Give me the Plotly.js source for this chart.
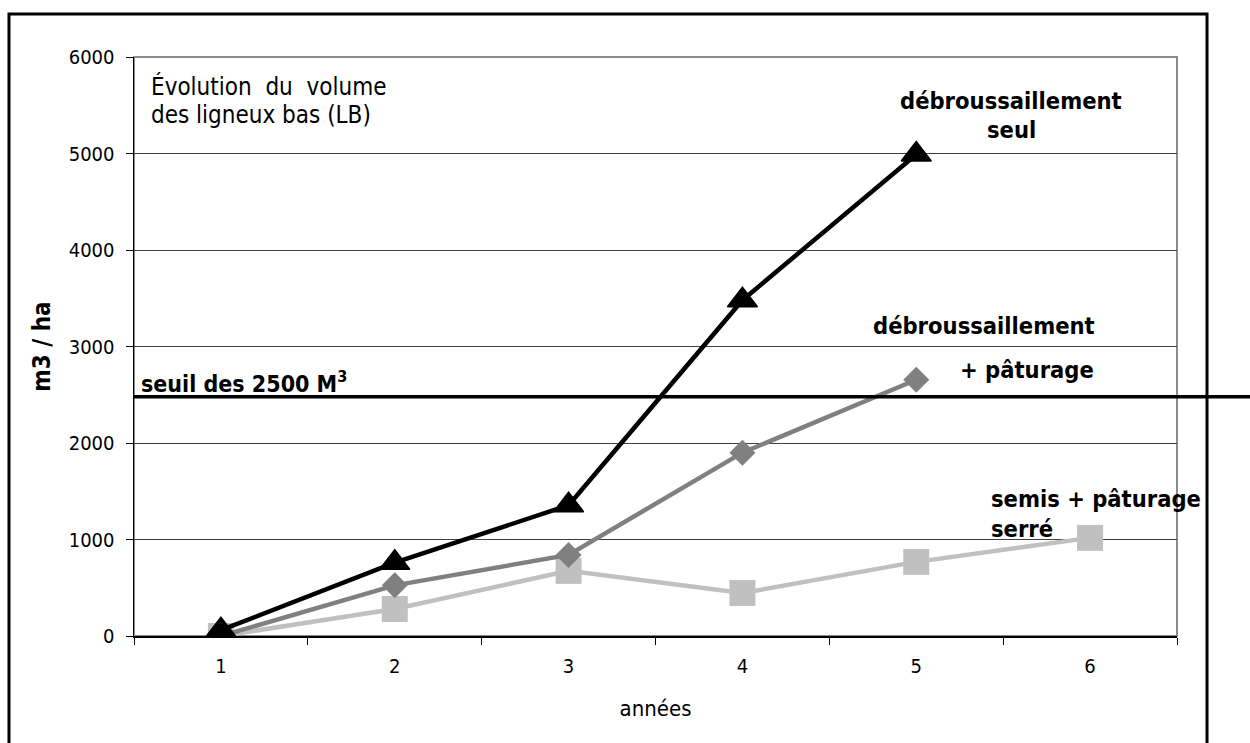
<!DOCTYPE html>
<html>
<head>
<meta charset="utf-8">
<script src="https://cdn.plot.ly/plotly-3.0.1.min.js"></script>
<style>html,body{margin:0;padding:0;background:#fff;}#chart{width:1250px;height:743px;}</style>
</head>
<body>
<div id="chart"></div>
<script>
// ---- data ----
const years = ["1", "2", "3", "4", "5", "6"];
const debroussaillementSeul = [60, 760, 1355, 3480, 4990, null];
const debroussaillementPaturage = [0, 525, 840, 1900, 2655, null];
const semisPaturageSerre = [0, 280, 675, 445, 768, 1017];
const seuil = 2480;
const seuilLabel = "seuil des 2500 M<sup>3</sup>";
const seriesLabels = ["débroussaillement", "seul", "débroussaillement", "+ pâturage", "semis + pâturage", "serré"];
const noteLines = ["Évolution&nbsp; du&nbsp; volume", "des ligneux bas (LB)"];

// ---- layout helpers ----
const W = 1250, H = 743;
const M = {l: 134, r: 73, t: 57, b: 107};
const PW = W - M.l - M.r, PH = H - M.t - M.b;
const px = x => (x - M.l) / PW;
const py = y => (M.t + PH - y) / PH;
const FONT = '"DejaVu Sans Condensed", "DejaVu Sans", sans-serif';

function ann(text, x, y, xanchor, bold, size) {
  return {
    text: bold ? '<b>' + text + '</b>' : text,
    xref: 'paper', yref: 'paper', x: px(x), y: py(y),
    xanchor: xanchor, yanchor: 'middle', showarrow: false,
    font: {family: FONT, size: size, color: '#000'}
  };
}

const traces = [
  {x: years, y: semisPaturageSerre, type: 'scatter', mode: 'lines+markers',
   line: {color: '#c0c0c0', width: 4.5}, marker: {symbol: 'square', size: 26, color: '#c0c0c0'},
   name: 'semis + pâturage serré'},
  {x: years, y: debroussaillementPaturage, type: 'scatter', mode: 'lines+markers',
   line: {color: '#808080', width: 4.5}, marker: {symbol: 'diamond', size: 20, color: '#808080'},
   name: 'débroussaillement + pâturage'},
  {x: years, y: debroussaillementSeul, type: 'scatter', mode: 'lines+markers',
   line: {color: '#000000', width: 4.5}, marker: {symbol: 'triangle-up', size: 26, color: '#000000',
   line: {color: '#000', width: 1.5}},
   name: 'débroussaillement seul'}
];

const layout = {
  width: W, height: H,
  margin: M,
  paper_bgcolor: '#fff', plot_bgcolor: '#fff',
  showlegend: false,
  font: {family: FONT, size: 20, color: '#000'},
  xaxis: {
    type: 'category', range: [-0.5, 5.5], tickson: 'boundaries',
    showgrid: false, zeroline: false,
    showline: true, linecolor: '#000', linewidth: 1.5,
    ticks: 'outside', ticklen: 7, tickcolor: '#000', tickwidth: 1,
    ticklabelstandoff: 11,
    tickfont: {family: FONT, size: 20, color: '#000'},
    title: {text: 'années', font: {family: FONT, size: 22, color: '#000'}, standoff: 24}
  },
  yaxis: {
    range: [0, 6000], dtick: 1000, tick0: 0,
    showgrid: true, gridcolor: '#404040', gridwidth: 1,
    zeroline: false,
    showline: true, linecolor: '#000', linewidth: 1.5,
    ticks: 'outside', ticklen: 7, tickcolor: '#000', tickwidth: 1,
    ticklabelstandoff: 7,
    tickfont: {family: FONT, size: 20, color: '#000'},
    title: {text: '<b>m3 / ha</b>', font: {family: FONT, size: 24, color: '#000'}, standoff: 11}
  },
  shapes: [
    {type: 'rect', xref: 'paper', yref: 'paper', x0: 0, x1: 1, y0: 0, y1: 1,
     line: {color: '#8c8c8c', width: 2}, layer: 'below'},
    {type: 'rect', xref: 'paper', yref: 'paper', x0: px(9), x1: px(1207), y0: py(760), y1: py(14),
     line: {color: '#000', width: 3}},
    {type: 'line', xref: 'paper', yref: 'y', x0: 0, x1: px(1252), y0: seuil, y1: seuil,
     line: {color: '#000', width: 3.5}}
  ],
  annotations: [
    ann(seriesLabels[0], 1011, 101, 'center', true, 23.5),
    ann(seriesLabels[1], 1011, 130, 'center', true, 23.5),
    ann(seriesLabels[2], 984, 326, 'center', true, 23.5),
    ann(seriesLabels[3], 1096, 370, 'right', true, 23.5),
    ann(seriesLabels[4], 989, 499, 'left', true, 23.5),
    ann(seriesLabels[5], 989, 529, 'left', true, 23.5),
    ann(seuilLabel, 139, 382, 'left', true, 23),
    ann(noteLines[0], 149, 87, 'left', false, 24),
    ann(noteLines[1], 149, 115, 'left', false, 24)
  ]
};

Plotly.newPlot('chart', traces, layout, {displayModeBar: false, staticPlot: true});
</script>
</body>
</html>
